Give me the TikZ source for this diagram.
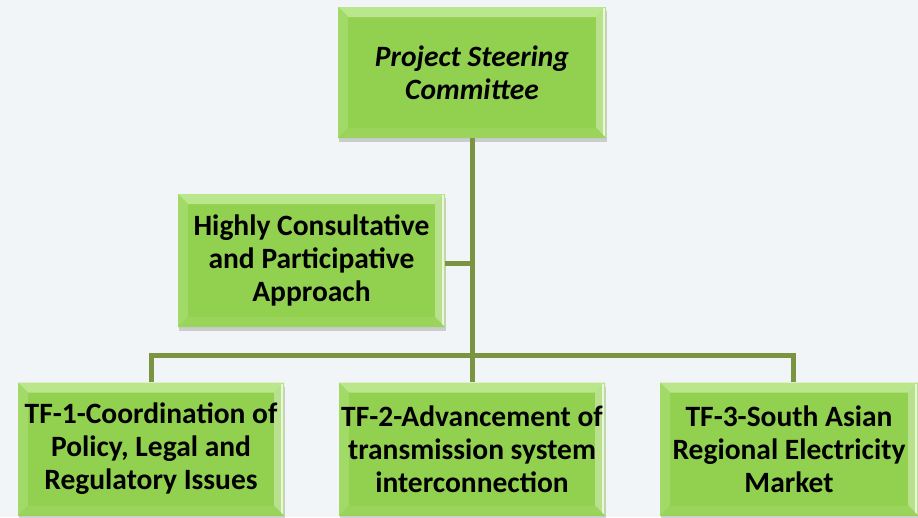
\documentclass[tikz,border=0pt]{standalone}
\usepackage{fontspec}
\setmainfont{Carlito}
\usepackage{tikz}
\usetikzlibrary{calc, shadows}

\definecolor{boxgreen}{RGB}{146,208,80}
\definecolor{boxlight}{RGB}{186,230,140}
\definecolor{boxside}{RGB}{162,218,104}
\definecolor{boxbase}{RGB}{154,212,90}
\definecolor{linkolive}{RGB}{122,148,66}
\definecolor{pagebg}{RGB}{242,245,248}

\tikzset{
  taskbox/.style={fill=boxgreen,
    minimum width=266pt, minimum height=133pt, inner sep=2pt,
    align=center, font=\bfseries\fontsize{29.5}{33}\selectfont,
    drop shadow={opacity=0.35, shadow xshift=1pt, shadow yshift=-4pt},
    path picture={
      % top bevel
      \fill[boxlight] (path picture bounding box.north west) -- (path picture bounding box.north east)
        -- ($(path picture bounding box.north east)+(-10,-10)$) -- ($(path picture bounding box.north west)+(10,-10)$) -- cycle;
      % left bevel
      \fill[boxside] (path picture bounding box.north west) -- ($(path picture bounding box.north west)+(10,-10)$)
        -- ($(path picture bounding box.south west)+(10,10)$) -- (path picture bounding box.south west) -- cycle;
      % right bevel
      \fill[white!35!boxgreen] (path picture bounding box.north east) -- ($(path picture bounding box.north east)+(-10,-10)$)
        -- ($(path picture bounding box.south east)+(-10,10)$) -- (path picture bounding box.south east) -- cycle;
      \draw[white!80!boxgreen, line width=2pt] ($(path picture bounding box.north east)+(-2,-1)$) -- ($(path picture bounding box.south east)+(-2,1)$);
      % bottom bevel
      \fill[boxbase] (path picture bounding box.south west) -- ($(path picture bounding box.south west)+(10,10)$)
        -- ($(path picture bounding box.south east)+(-10,10)$) -- (path picture bounding box.south east) -- cycle;
    }},
  link/.style={draw=linkolive, line width=5pt}
}

\begin{document}
\begin{tikzpicture}[x=1pt,y=1pt,yscale=-1,xscale=1]
    \useasboundingbox (0,0) rectangle (918,517);
    \clip (0,0) rectangle (918,517);
    \fill[pagebg] (0,0) rectangle (918,517);

    % Connectors
    \coordinate (bar) at (472,355);
    \coordinate (side) at (472,263);

    % Text Node
    \node (steer) at (472,72.5) [taskbox, minimum width=268pt, minimum height=131pt] {\itshape Project Steering\\\itshape Committee};
    % Text Node
    \node (consult) at (311.5,260.5) [taskbox, minimum width=267pt] {Highly Consultative\\and Participative\\Approach};
    % Text Node
    \node (tfone) at (151,449) [taskbox] {TF-1-Coordination of\\Policy, Legal and\\Regulatory Issues};
    % Text Node
    \node (tftwo) at (472,449) [taskbox] {TF-2-Advancement of\\transmission system\\interconnection};
    % Text Node
    \node (tfthree) at (789,449) [taskbox, minimum width=258pt] {TF-3-South Asian\\Regional Electricity\\Market};

    \draw[link] (steer.south) -- (bar);
    \draw[link] (consult.east |- side) -- (side);
    \draw[link] (tfone.north) |- (bar) -| ([xshift=4pt]tfthree.north);
    \draw[link] (bar) -- (tftwo.north);

\end{tikzpicture}
\end{document}
